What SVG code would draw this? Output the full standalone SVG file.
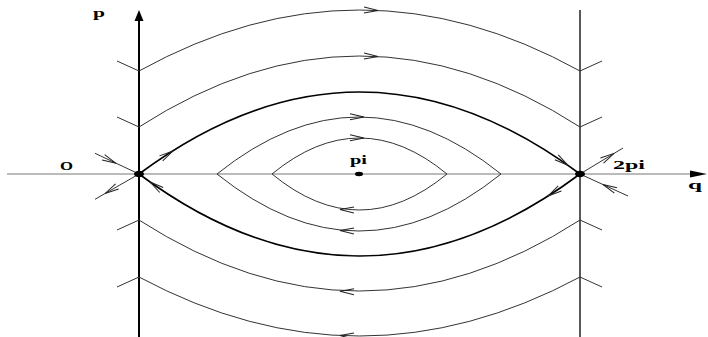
<svg xmlns="http://www.w3.org/2000/svg" xmlns:xlink="http://www.w3.org/1999/xlink" width="708" height="337" viewBox="0 0 708 337">
<style>
.ax{stroke:#000;fill:none}
.hax{stroke:#777;stroke-width:1;fill:none}
.orb{stroke:#333;stroke-width:1;fill:none}
.sep{stroke:#000;stroke-width:1.6;fill:none}
.lbl{font-family:"Liberation Serif","Times New Roman",serif;font-size:13px;font-weight:bold;fill:#000}
</style>
<defs>
<path id="ah" d="M-14,-3 L0,0 L-14,3" fill="none" stroke="#222" stroke-width="1"/>
</defs>
<rect width="708" height="337" fill="#fff"/>
<g id="axes">
<line class="hax" x1="7" y1="174" x2="692" y2="174"/>
<polygon points="707,174 690,170.5 690,177.5" fill="#000"/>
<line class="ax" x1="139" y1="20" x2="139" y2="337" stroke-width="2"/>
<polygon points="139,10 134.5,21 143.5,21" fill="#000"/>
<line class="ax" x1="580" y1="10" x2="580" y2="337" stroke-width="1.3"/>
</g>
<g id="connectors">
<path class="orb" d="M139,71 Q359.5,-51 580,71"/>
<path class="orb" d="M139,127 Q359.5,-15 580,127"/>
<path class="sep" d="M139,174 Q359.5,10 580,174"/>
<path class="sep" d="M139,174 Q359.5,338 580,174"/>
<path class="orb" d="M139,220 Q359.5,362 580,220"/>
<path class="orb" d="M139,277 Q359.5,395 580,277"/>
<path class="orb" d="M217,174 Q359,60 501,174 Q359,288 217,174 Z"/>
<path class="orb" d="M272,174 Q359.5,102 447,174 Q359.5,246 272,174 Z"/>
<path class="orb" d="M117,61 L139,71 M117,117 L139,127 M117,230 L139,220 M117,287 L139,277"/>
<path class="orb" d="M602,61 L580,71 M602,117 L580,127 M602,230 L580,220 M602,287 L580,277"/>
<path class="orb" d="M95,153.3 L139,174 L95,199.3"/>
<path class="orb" d="M623,148 L580,174 L628,196"/>
<use xlink:href="#ah" transform="translate(378,10.4) rotate(2)"/>
<use xlink:href="#ah" transform="translate(378,56.4) rotate(2)"/>
<use xlink:href="#ah" transform="translate(364,117.1) rotate(1)"/>
<use xlink:href="#ah" transform="translate(364,138.1) rotate(1)"/>
<use xlink:href="#ah" transform="translate(340,209.6) rotate(182)"/>
<use xlink:href="#ah" transform="translate(340,230.6) rotate(182)"/>
<use xlink:href="#ah" transform="translate(340,291.3) rotate(182)"/>
<use xlink:href="#ah" transform="translate(340,335.6) rotate(182)"/>
<use xlink:href="#ah" transform="translate(116,163.3) rotate(25.5)"/>
<use xlink:href="#ah" transform="translate(105,193.5) rotate(150)"/>
<use xlink:href="#ah" transform="translate(173,151) rotate(-32)"/>
<use xlink:href="#ah" transform="translate(150,182) rotate(-145)"/>
<use xlink:href="#ah" transform="translate(568,165.3) rotate(35)"/>
<use xlink:href="#ah" transform="translate(614,153.4) rotate(-31)"/>
<use xlink:href="#ah" transform="translate(603,184.5) rotate(-155)"/>
<use xlink:href="#ah" transform="translate(548,196) rotate(147.5)"/>
</g>
<g id="saddle-0">
<ellipse cx="139" cy="174" rx="5" ry="3.2" fill="#000"/>
<text class="lbl" x="60" y="169.5" textLength="13" lengthAdjust="spacingAndGlyphs">O</text>
</g>
<g id="center-pi">
<ellipse cx="359" cy="174" rx="4" ry="2.2" fill="#000"/>
<text class="lbl" x="350" y="164" textLength="17" lengthAdjust="spacingAndGlyphs">pi</text>
</g>
<g id="saddle-2pi">
<ellipse cx="580" cy="174" rx="5" ry="3.2" fill="#000"/>
<text class="lbl" x="613" y="169" textLength="32" lengthAdjust="spacingAndGlyphs">2pi</text>
</g>
<g id="label-q">
<text class="lbl" x="688" y="188.5" textLength="14" lengthAdjust="spacingAndGlyphs">q</text>
</g>
<g id="label-p">
<text class="lbl" x="93" y="17" textLength="12" lengthAdjust="spacingAndGlyphs">p</text>
</g>
</svg>
